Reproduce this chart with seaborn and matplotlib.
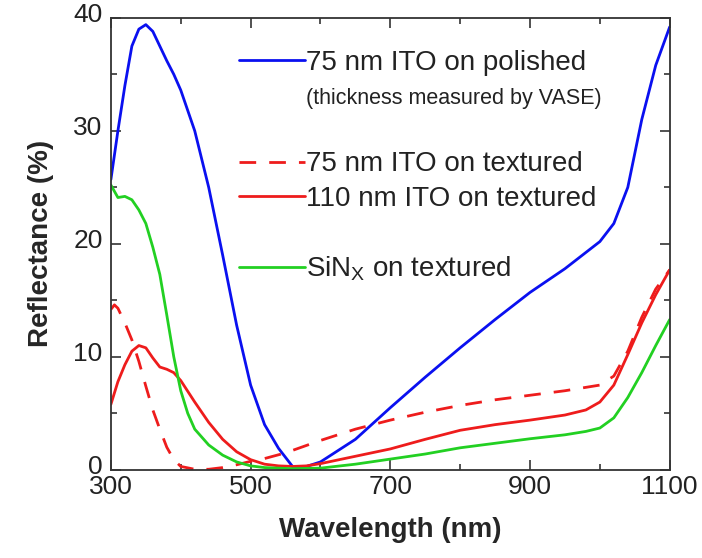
import numpy as np
import pandas as pd
import matplotlib
matplotlib.use("Agg")
import matplotlib.pyplot as plt
import matplotlib.transforms as mtransforms
from matplotlib.lines import Line2D
from matplotlib.ticker import MultipleLocator
import seaborn as sns

# ---- data ----
wl_blue = [300, 310, 320, 330, 340, 350, 360, 370, 380, 390, 400, 420, 440, 460, 480, 500,
           520, 540, 560, 580, 600, 650, 700, 750, 800, 850, 900, 950, 1000, 1020, 1040,
           1060, 1080, 1100]
r_blue = [25.7, 30.0, 34.0, 37.5, 39.0, 39.4, 38.8, 37.5, 36.2, 35.0, 33.6, 30.0, 25.0,
          19.0, 12.8, 7.5, 4.0, 1.9, 0.3, 0.3, 0.7, 2.7, 5.5, 8.2, 10.8, 13.3, 15.7, 17.8,
          20.2, 21.8, 25.0, 31.0, 35.8, 39.2]

wl_dash = [300, 305, 310, 320, 330, 340, 350, 360, 370, 380, 390, 400, 420, 440, 460, 480,
           500, 520, 550, 600, 650, 700, 750, 800, 850, 900, 950, 1000, 1020, 1040, 1060,
           1080, 1100]
r_dash = [14.2, 14.6, 14.3, 13.0, 11.5, 9.6, 7.4, 5.3, 3.6, 2.0, 0.9, 0.3, 0.05, 0.05, 0.2,
          0.45, 0.75, 1.0, 1.5, 2.6, 3.6, 4.4, 5.1, 5.7, 6.2, 6.6, 7.0, 7.5, 8.3, 10.5, 13.5,
          16.0, 17.7]

wl_red = [300, 310, 320, 330, 340, 350, 360, 370, 380, 390, 400, 420, 440, 460, 480, 500,
          520, 540, 560, 580, 600, 650, 700, 750, 800, 850, 900, 950, 980, 1000, 1020, 1040,
          1060, 1080, 1100]
r_red = [5.8, 7.8, 9.3, 10.5, 11.0, 10.8, 9.9, 9.1, 8.9, 8.6, 7.9, 6.0, 4.2, 2.7, 1.6, 0.9,
         0.5, 0.35, 0.3, 0.35, 0.55, 1.2, 1.85, 2.7, 3.5, 4.0, 4.4, 4.85, 5.3, 6.0, 7.5, 10.2,
         13.0, 15.5, 17.7]

wl_green = [300, 310, 320, 330, 340, 350, 360, 370, 380, 390, 400, 410, 420, 440, 460, 480,
            500, 520, 560, 600, 650, 700, 750, 800, 850, 900, 950, 980, 1000, 1020, 1040,
            1060, 1080, 1100]
r_green = [25.2, 24.1, 24.2, 23.9, 23.0, 21.8, 19.7, 17.3, 13.7, 10.0, 7.0, 5.0, 3.6, 2.2,
           1.3, 0.7, 0.35, 0.2, 0.1, 0.15, 0.5, 0.95, 1.4, 1.95, 2.35, 2.75, 3.1, 3.4, 3.7,
           4.6, 6.4, 8.6, 11.0, 13.3]

labels = ["75 nm ITO on polished", "75 nm ITO on textured", "110 nm ITO on textured",
          "SiN$_\\mathrm{X}$ on textured"]
note = "(thickness measured by VASE)"
x_ticks = [300, 500, 700, 900, 1100]
y_ticks = [0, 10, 20, 30, 40]

# ---- style ----
sns.set_theme(style="ticks")
plt.rcParams["font.family"] = ["Liberation Sans", "DejaVu Sans"]
plt.rcParams["mathtext.fontset"] = "custom"
plt.rcParams["mathtext.rm"] = "Liberation Sans"
plt.rcParams["mathtext.it"] = "Liberation Sans"

BLUE, RED, GREEN = "#0a10f0", "#ee1c1c", "#22d022"
LW = 2.0
DASH = [6, 4.7]

fig = plt.figure(figsize=(7.02, 5.58), dpi=100)
ax = fig.add_axes([0.158, 0.158, 0.796, 0.810])

sns.lineplot(x=wl_blue, y=r_blue, ax=ax, color=BLUE, lw=LW, legend=False)
sns.lineplot(x=wl_dash, y=r_dash, ax=ax, color=RED, lw=LW, legend=False)
ax.lines[-1].set_dashes(DASH)
sns.lineplot(x=wl_red, y=r_red, ax=ax, color=RED, lw=LW, legend=False)
sns.lineplot(x=wl_green, y=r_green, ax=ax, color=GREEN, lw=LW, legend=False)

ax.set_xlim(300, 1100)
ax.set_ylim(0, 40)
ax.set_xticks(x_ticks)
ax.set_yticks(y_ticks)
ax.xaxis.set_minor_locator(MultipleLocator(100))
ax.yaxis.set_minor_locator(MultipleLocator(5))
ax.tick_params(which="both", direction="in", top=True, right=True, width=1.2,
               colors="#333333", labelcolor="#222222")
ax.tick_params(which="major", length=7, labelsize=19)
ax.tick_params(axis="x", which="major", pad=4)
ax.tick_params(axis="y", which="major", pad=6)
ax.tick_params(which="minor", length=4)
for s in ax.spines.values():
    s.set_linewidth(1.3)
    s.set_color("#333333")

# lift the y tick labels slightly, as in the reference
off = mtransforms.ScaledTranslation(0, 4 / 72, fig.dpi_scale_trans)
for lab in ax.get_yticklabels():
    lab.set_transform(lab.get_transform() + off)

ax.set_xlabel("Wavelength (nm)", fontsize=20, fontweight="bold", labelpad=13)
ax.set_ylabel("Reflectance (%)", fontsize=20, fontweight="bold", labelpad=14)

blank = Line2D([], [], linestyle="none")
handles = [Line2D([], [], color=BLUE, lw=LW), blank, blank,
           Line2D([], [], color=RED, lw=LW, dashes=DASH),
           Line2D([], [], color=RED, lw=LW), blank,
           Line2D([], [], color=GREEN, lw=LW)]
leg_labels = [labels[0], note, " ", labels[1], labels[2], " ", labels[3]]
leg = ax.legend(handles, leg_labels, loc="upper left", bbox_to_anchor=(0.230, 0.929),
                frameon=False, fontsize=20, handlelength=2.35, handletextpad=0.05,
                labelspacing=0.30, borderpad=0, borderaxespad=0)
texts = leg.get_texts()
texts[1].set_fontsize(15.5)
for t in texts:
    t.set_color("#222222")

fig.savefig("out.png", dpi=100)
